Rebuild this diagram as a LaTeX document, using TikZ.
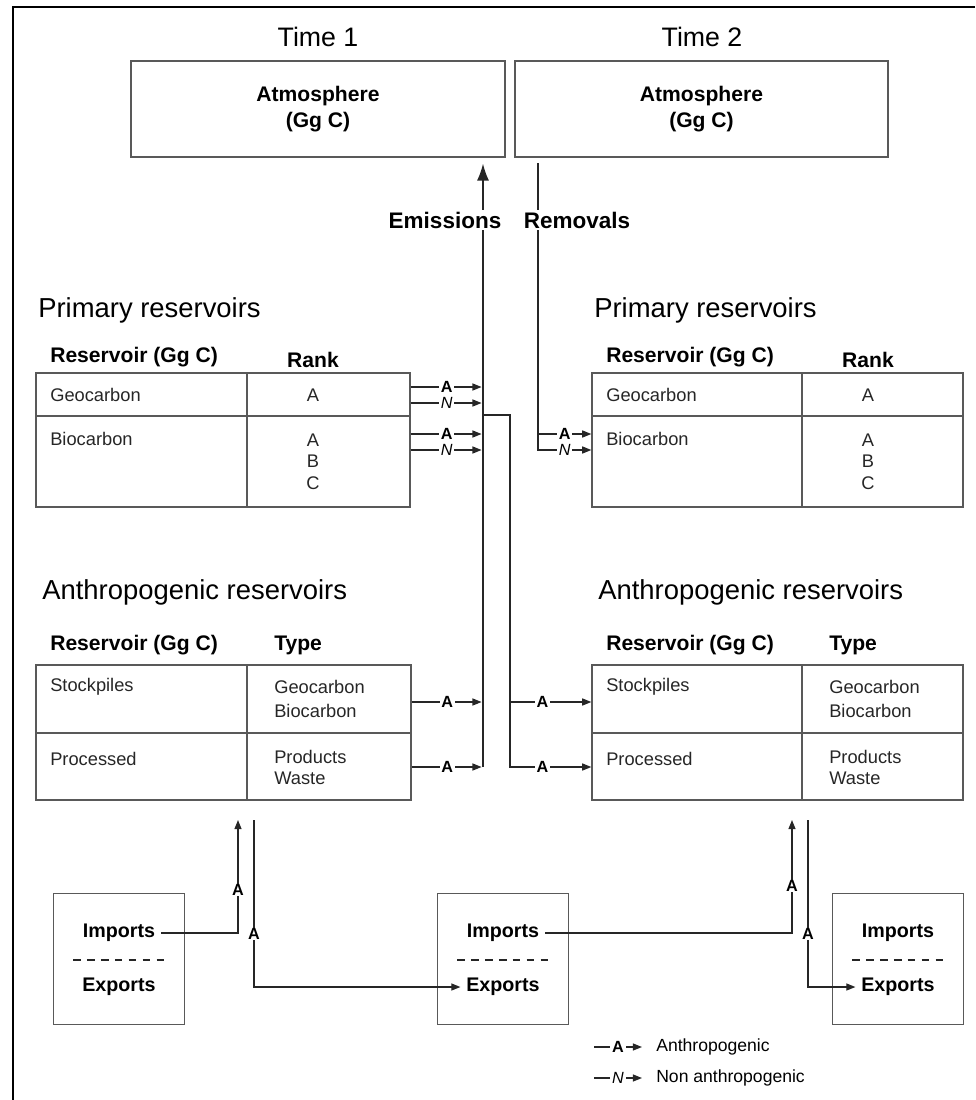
\documentclass[tikz,border=0pt]{standalone}
\usepackage{fontspec}
\setmainfont{Liberation Sans}
\usetikzlibrary{arrows.meta}
\newcommand{\pxu}{0.025cm}
\newcommand{\nonA}{\mdseries\itshape N}

\begin{document}
\begin{tikzpicture}[x=0.025cm, y=-0.025cm,
	box/.style={draw=black!65, line width=0.9pt, inner sep=0pt},
	title/.style={font=\fontsize{19}{23}\selectfont},
	heading/.style={anchor=west, inner sep=0pt, font=\fontsize{19.5}{23}\selectfont},
	colhead/.style={anchor=west, inner sep=0pt, font=\bfseries\fontsize{15}{18}\selectfont},
	cell/.style={anchor=west, inner sep=0pt, text=black!85, font=\fontsize{13}{15}\selectfont},
	rank/.style={inner sep=0pt, text=black!85, font=\fontsize{13}{15}\selectfont},
	line/.style={draw=black!85, line width=0.9pt},
	flow/.style={line, -{Triangle[length=6.5pt,width=5pt]}},
	bigflow/.style={line, -{Latex[length=12pt,width=8.5pt]}},
	tag/.style={fill=white, inner xsep=1.2pt, inner ysep=0.3pt, font=\bfseries\fontsize{11.5}{12}\selectfont},
	flowname/.style={fill=white, inner xsep=2pt, inner ysep=1pt, font=\bfseries\fontsize{16}{18}\selectfont},
	trade/.style={inner xsep=4pt, font=\bfseries\fontsize{14}{16}\selectfont},
	dashline/.style={draw=black!85, line width=1.3pt, dash pattern=on 5.5pt off 4.4pt},
	keytext/.style={anchor=west, inner sep=0pt, font=\fontsize{12.5}{14}\selectfont}
	]
	\useasboundingbox (0,0) rectangle (975,1100); % Rand wie Vorlage
	\draw[line width=1.3pt] (975,7) -- (13,7) -- (13,1100);
	
	% Atmosphaere
	\node[title] (t1) at (318,37) {Time 1};
	\node[title] (t2) at (702,37) {Time 2};
	\node[box, minimum width=374*\pxu, minimum height=96*\pxu, align=center,
		font=\bfseries\fontsize{15}{18.5}\selectfont] (atm1) at (318,109) {Atmosphere\\(Gg C)};
	\node[box, minimum width=373*\pxu, minimum height=96*\pxu, align=center,
		font=\bfseries\fontsize{15}{18.5}\selectfont] (atm2) at (701.5,109) {Atmosphere\\(Gg C)};
	
	% Primaere Reservoirs
	\foreach \n/\l/\c/\r in {1/36/247/410, 2/592/802/963}{
		\node[heading] (primhead\n) at (\l+2,310) {Primary reservoirs};
		\node[colhead] (primres\n) at (\l+14,357) {Reservoir (Gg C)};
		\node[colhead, anchor=center] (primrank\n) at (\c+66,360) {Rank};
		\node[box, minimum width={(\r-\l)*\pxu}, minimum height=134*\pxu] (prim\n) at ({(\l+\r)/2},440) {};
		\draw[box] (prim\n.west |- 0,416) -- (prim\n.east |- 0,416);
		\draw[box] (prim\n.north -| \c,0) -- (prim\n.south -| \c,0);
		\node[cell] at (\l+14,395) {Geocarbon};
		\node[cell] at (\l+14,439) {Biocarbon};
		\node[rank] at (\c+66,395) {A};
		\foreach \y/\k in {440/A, 461/B, 483/C}
			\node[rank] at (\c+66,\y) {\k};
	}
	
	% Anthropogene Reservoirs
	\foreach \n/\l/\c/\r in {1/36/247/411, 2/592/802/963}{
		\node[heading] (anthead\n) at (\l+6,592) {Anthropogenic reservoirs};
		\node[colhead] (anthres\n) at (\l+14,645) {Reservoir (Gg C)};
		\node[colhead] (anthtype\n) at (\c+27,645) {Type};
		\node[box, minimum width={(\r-\l)*\pxu}, minimum height=135*\pxu] (anth\n) at ({(\l+\r)/2},732.5) {};
		\draw[box] (anth\n.west |- 0,733) -- (anth\n.east |- 0,733);
		\draw[box] (anth\n.north -| \c,0) -- (anth\n.south -| \c,0);
		\node[cell] at (\l+14,687) {Stockpiles};
		\node[cell] at (\l+14,759) {Processed};
		\node[cell] at (\c+27,687) {Geocarbon};
		\node[cell] at (\c+27,711) {Biocarbon};
		\node[cell] at (\c+27,757) {Products};
		\node[cell] at (\c+27,778) {Waste};
	}
	
	% Emissionen
	\coordinate (emis) at (483,767);
	\draw[bigflow, shorten >=4.3pt] (emis) -- (emis |- atm1.south);
	\foreach \y/\t in {387/A, 403/\nonA, 434/A, 450/\nonA}
		\draw[flow, shorten >=1pt] (prim1.east |- 0,\y) -- node[tag]{\t} (emis |- 0,\y);
	\foreach \y in {702,767}
		\draw[flow, shorten >=1pt] (anth1.east |- 0,\y) -- node[tag]{A} (emis |- 0,\y);
	
	\coordinate (jn) at (510,415);
	\draw[flow] (emis |- jn) -- (jn) -- (jn |- 0,767) -- node[tag, pos=0.4]{A} (anth2.west |- 0,767);
	\draw[flow] (jn |- 0,702) -- node[tag, pos=0.4]{A} (anth2.west |- 0,702);
	
	% Entnahmen
	\coordinate (remtop) at (538,163);
	\coordinate (remN) at (538,450);
	\draw[flow] (remtop) -- (remN) -- node[tag]{\nonA} (prim2.west |- remN);
	\draw[flow] (remN |- 0,434) -- node[tag]{A} (prim2.west |- 0,434);
	
	\node[flowname] (emlab) at (445,220) {Emissions};
	\node[flowname] (remlab) at (577,220) {Removals};
	
	% Import / Export
	\foreach \n/\x in {1/119, 2/503, 3/898}{
		\node[box, minimum size=131*\pxu] (trade\n) at (\x,959) {};
		\node[trade] (imp\n) at (\x,933) {Imports};
		\node[trade] (exp\n) at (\x,987) {Exports};
		\draw[dashline] (\x-46,960) -- (\x+46,960);
	}
	
	\coordinate (up1) at (238,820);
	\coordinate (dn1) at (254,820);
	\coordinate (up2) at (792,820);
	\coordinate (dn2) at (808,820);
	\draw[flow] (imp1.east) -- (up1 |- imp1.east) -- node[tag, pos=0.38]{A} (up1);
	\draw[flow] (dn1) -- node[tag, pos=0.68]{A} (dn1 |- exp2.west) -- (exp2.west);
	\draw[flow] (imp2.east) -- (up2 |- imp2.east) -- node[tag, pos=0.42]{A} (up2);
	\draw[flow] (dn2) -- node[tag, pos=0.68]{A} (dn2 |- exp3.west) -- (exp3.west);
	
	% Legende
	\coordinate (keyA) at (594,1047);
	\coordinate (keyN) at (594,1078);
	\draw[flow] (keyA) -- node[tag]{A} ++(48,0);
	\draw[flow] (keyN) -- node[tag]{\nonA} ++(48,0);
	\node[keytext] (keyAtext) at (656,1047) {Anthropogenic};
	\node[keytext] (keyNtext) at (656,1078) {Non anthropogenic};
	
	%\draw[help lines, step=50] (0,0) grid (975,1100);
\end{tikzpicture}
\end{document}
